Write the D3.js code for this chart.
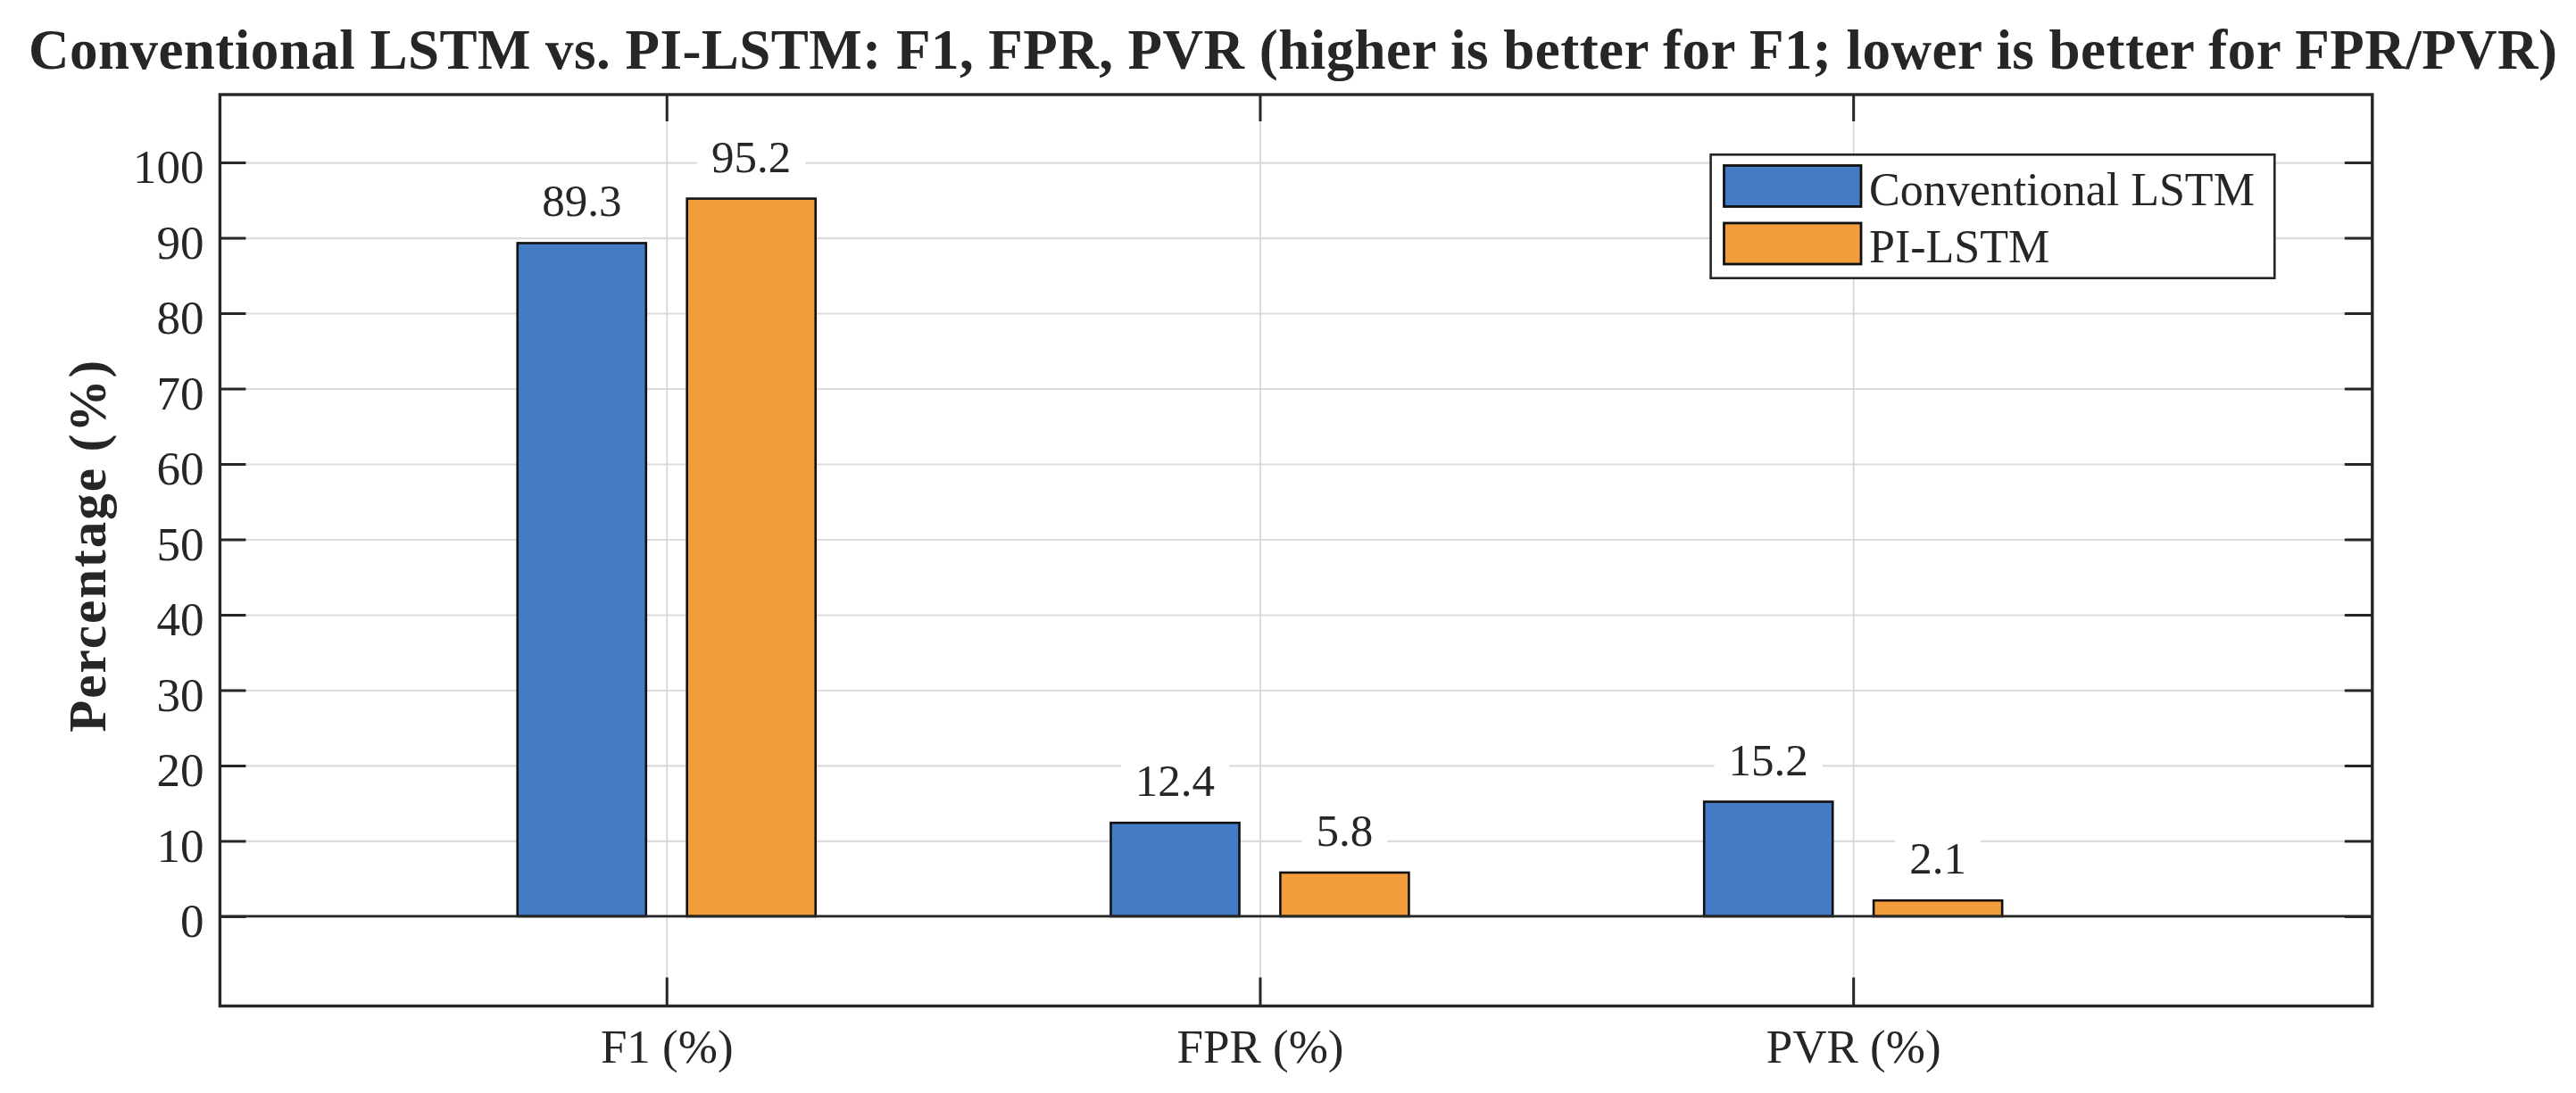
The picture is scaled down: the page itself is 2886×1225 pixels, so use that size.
<!DOCTYPE html>
<html>
<head>
<meta charset="utf-8">
<script src="https://cdn.jsdelivr.net/npm/d3@7"></script>
<style>
  html, body { margin: 0; padding: 0; background: #ffffff; }
  svg { display: block; }
  text { font-family: "Liberation Serif", "Times New Roman", Times, serif; fill: #262626; }
</style>
</head>
<body>
<svg id="chart" width="2886" height="1225"></svg>
<script>
// ---------------- data ----------------
const categories = ["F1 (%)", "FPR (%)", "PVR (%)"];
const seriesNames = ["Conventional LSTM", "PI-LSTM"];
const conventionalLSTM = [89.3, 12.4, 15.2];
const piLSTM = [95.2, 5.8, 2.1];
const yTickValues = [0, 10, 20, 30, 40, 50, 60, 70, 80, 90, 100];
const titleText = "Conventional LSTM vs. PI-LSTM: F1, FPR, PVR (higher is better for F1; lower is better for FPR/PVR)";
const yLabelText = "Percentage (%)";
const seriesColors = ["#437BC4", "#F29D3C"];

// ---------------- layout ----------------
const W = 2886, H = 1225;
const plot = { left: 246.4, right: 2657.8, top: 106, bottom: 1127.5 };
const svg = d3.select("#chart");

const series = [conventionalLSTM, piLSTM];
const catIdx = categories.map((c, i) => i + 1);

const x = d3.scaleLinear().domain([0.2473, 3.875]).range([plot.left, plot.right]);
const y = d3.scaleLinear().domain([-11.9, 109.0]).range([plot.bottom, plot.top]);

const groupOffset = 1 / 7;      // bar centre offset from category (data units)
const barWidthU = 0.2167;       // bar width (data units)
const barW = x(barWidthU) - x(0);

const axisColor = "#262626";
const gridColor = "#dcdcdc";

// ---------------- background ----------------
svg.append("rect").attr("x", 0).attr("y", 0).attr("width", W).attr("height", H).attr("fill", "#fff");

// ---------------- gridlines ----------------
const gy = svg.append("g")
  .attr("transform", `translate(${plot.left},0)`)
  .call(d3.axisLeft(y).tickValues(yTickValues).tickSize(-(plot.right - plot.left)).tickFormat(""));
gy.select(".domain").remove();
gy.selectAll("line").attr("stroke", gridColor).attr("stroke-width", 2.2);

const gx = svg.append("g")
  .attr("transform", `translate(0,${plot.bottom})`)
  .call(d3.axisBottom(x).tickValues(catIdx).tickSize(-(plot.bottom - plot.top)).tickFormat(""));
gx.select(".domain").remove();
gx.selectAll("line").attr("stroke", "#d4d4d4").attr("stroke-width", 1.6);

// ---------------- bars ----------------
const barData = [];
series.forEach((vals, s) => {
  vals.forEach((v, i) => {
    barData.push({ s, i, v, cx: catIdx[i] + (s === 0 ? -groupOffset : groupOffset) });
  });
});

svg.append("g").selectAll("rect.bar").data(barData).enter().append("rect")
  .attr("class", "bar")
  .attr("x", d => x(d.cx) - barW / 2)
  .attr("y", d => y(d.v))
  .attr("width", barW)
  .attr("height", d => y(0) - y(d.v))
  .attr("fill", d => seriesColors[d.s])
  .attr("stroke", "#111")
  .attr("stroke-width", 2.6);

// baseline at zero
svg.append("line")
  .attr("x1", plot.left).attr("x2", plot.right)
  .attr("y1", y(0)).attr("y2", y(0))
  .attr("stroke", axisColor).attr("stroke-width", 2.8);

// ---------------- value labels ----------------
const labG = svg.append("g");
barData.forEach(d => {
  const g = labG.append("g");
  const t = g.append("text")
    .attr("x", x(d.cx))
    .attr("y", y(d.v) - 30)
    .attr("text-anchor", "middle")
    .attr("font-size", 51)
    .text(d.v.toFixed(1));
  const bb = t.node().getBBox();
  g.insert("rect", "text")
    .attr("x", bb.x - 16).attr("y", bb.y)
    .attr("width", bb.width + 32).attr("height", bb.height)
    .attr("fill", "#fff");
});

// ---------------- axes ----------------
const axL = svg.append("g")
  .attr("transform", `translate(${plot.left},0)`)
  .call(d3.axisLeft(y).tickValues(yTickValues).tickSizeInner(-29).tickSizeOuter(0).tickPadding(18));
axL.select(".domain").remove();
axL.selectAll("line").attr("stroke", axisColor).attr("stroke-width", 3);
axL.selectAll("text").attr("font-size", 53).attr("dy", "0.43em").attr("fill", "#262626")
  .style("font-family", "'Liberation Serif','Times New Roman',serif");

const axR = svg.append("g")
  .attr("transform", `translate(${plot.right},0)`)
  .call(d3.axisRight(y).tickValues(yTickValues).tickSizeInner(-31).tickSizeOuter(0).tickFormat(""));
axR.select(".domain").remove();
axR.selectAll("line").attr("stroke", axisColor).attr("stroke-width", 3);

const axB = svg.append("g")
  .attr("transform", `translate(0,${plot.bottom})`)
  .call(d3.axisBottom(x).tickValues(catIdx).tickFormat(i => categories[i - 1]).tickSizeInner(-32).tickSizeOuter(0));
axB.select(".domain").remove();
axB.selectAll("line").attr("stroke", axisColor).attr("stroke-width", 3);
axB.selectAll("text").attr("font-size", 53).attr("y", 63).attr("dy", 0).attr("fill", "#262626")
  .style("font-family", "'Liberation Serif','Times New Roman',serif");

const axT = svg.append("g")
  .attr("transform", `translate(0,${plot.top})`)
  .call(d3.axisTop(x).tickValues(catIdx).tickFormat("").tickSizeInner(-30).tickSizeOuter(0));
axT.select(".domain").remove();
axT.selectAll("line").attr("stroke", axisColor).attr("stroke-width", 3);

// box
svg.append("rect")
  .attr("x", plot.left).attr("y", plot.top)
  .attr("width", plot.right - plot.left).attr("height", plot.bottom - plot.top)
  .attr("fill", "none").attr("stroke", axisColor).attr("stroke-width", 3.4);

// ---------------- title & y label ----------------
svg.append("text")
  .attr("x", 32).attr("y", 77)
  .attr("font-size", 63).attr("font-weight", "bold").attr("fill", "#000")
  .attr("textLength", 2833).attr("lengthAdjust", "spacing")
  .text(titleText);

svg.append("text")
  .attr("transform", `translate(118,${(403.6 + 821) / 2}) rotate(-90)`)
  .attr("text-anchor", "middle")
  .attr("font-size", 59).attr("font-weight", "bold").attr("fill", "#000")
  .attr("textLength", 417).attr("lengthAdjust", "spacing")
  .text(yLabelText);

// ---------------- legend ----------------
const leg = svg.append("g");
leg.append("rect")
  .attr("x", 1916.6).attr("y", 173.3).attr("width", 2548.3 - 1916.6).attr("height", 311.7 - 173.3)
  .attr("fill", "#fff").attr("stroke", axisColor).attr("stroke-width", 2.6);
const legRowY = [185.5, 250];
seriesNames.forEach((name, s) => {
  leg.append("rect")
    .attr("x", 1931.5).attr("y", legRowY[s])
    .attr("width", 2085 - 1931.5).attr("height", 46)
    .attr("fill", seriesColors[s]).attr("stroke", "#111").attr("stroke-width", 2.8);
  leg.append("text")
    .attr("x", 2094).attr("y", legRowY[s] + 44)
    .attr("font-size", 52).attr("fill", "#262626")
    .text(name);
});
</script>
</body>
</html>
